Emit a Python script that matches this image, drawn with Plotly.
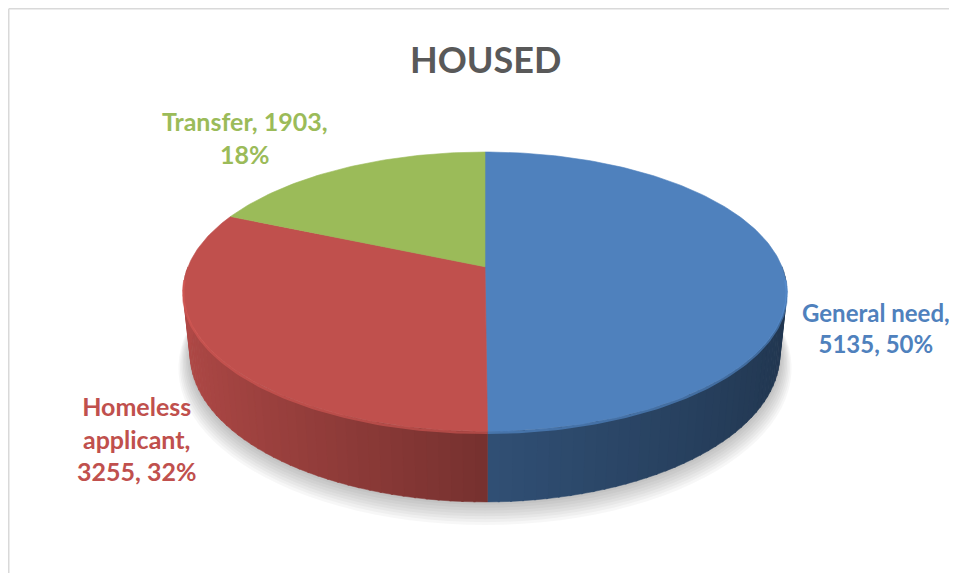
import math
import plotly.graph_objects as go

# ---- data ----
categories = ["General need", "Homeless applicant", "Transfer"]
values = [5135, 3255, 1903]
label_lines = [["General need,", "{v}, {p}%"], ["Homeless", "applicant,", "{v}, {p}%"], ["Transfer, {v},", "{p}%"]]
colors = ["#4F81BD", "#C0504D", "#9BBB59"]
title_text = "HOUSED"

W, H = 957, 581
OFF = 8  # page body margin
FW, FH = W - OFF, H - 2 * OFF

# ---- 3D projection parameters (pie geometry) ----
phi = math.radians(28.3)
D = 5.0
t = 0.12
cx = 485.0
top_y = 152.0
half_w = 297.0
F = half_w * (D - t * math.sin(phi))
base = top_y + F * (math.sin(phi) + t * math.cos(phi)) / (D + math.cos(phi) - t * math.sin(phi))


def proj(theta_deg, Y):
    th = math.radians(theta_deg)
    X = math.sin(th)
    Z = math.cos(th)
    depth = D + Z * math.cos(phi) - Y * math.sin(phi)
    sx = F * X / depth
    sy = F * (Z * math.sin(phi) + Y * math.cos(phi)) / depth
    return cx + sx, base - sy


def center(Y):
    depth = D - Y * math.sin(phi)
    return cx, base - F * (Y * math.cos(phi)) / depth


def shade(hex_color, f):
    h = hex_color.lstrip("#")
    r, g, b = int(h[0:2], 16), int(h[2:4], 16), int(h[4:6], 16)
    return "rgb({},{},{})".format(min(255, int(r * f)), min(255, int(g * f)), min(255, int(b * f)))


def arange(a0, a1, step):
    n = max(1, int(math.ceil((a1 - a0) / step)))
    return [a0 + (a1 - a0) * i / n for i in range(n + 1)]


total = sum(values)
angles = []
acc = 0.0
for v in values:
    a0 = acc / total * 360.0
    acc += v
    a1 = acc / total * 360.0
    angles.append((a0, a1))

fig = go.Figure()

# soft shadow below the pie
for k in range(1, 9):
    xs, ys = [], []
    for a in arange(0, 360, 3):
        x, y = proj(a, -t)
        bx, by = center(-t)
        xs.append(bx + (x - bx) * (1 + 0.005 * k))
        ys.append(by + (y - by) * (1 + 0.008 * k) + 1.5 * k)
    fig.add_trace(go.Scatter(x=xs, y=ys, fill="toself", mode="none",
                             fillcolor="rgba(0,0,0,0.03)", hoverinfo="skip", showlegend=False))

# side walls (front half visible)
for (a0, a1), col in zip(angles, colors):
    s0, s1 = max(a0, 90.0), min(a1, 270.0)
    if s1 <= s0:
        continue
    pts = arange(s0, s1, 2.0)
    for i in range(len(pts) - 1):
        p, q = pts[i], pts[i + 1]
        m = math.sin(math.radians((p + q) / 2))
        f = 0.62 - 0.30 * m if m < 0 else 0.62 - 0.20 * m
        q2 = q + 0.3 if q < s1 else q
        xa, ya = proj(p, t)
        xb, yb = proj(q2, t)
        xc, yc = proj(q2, -t)
        xd, yd = proj(p, -t)
        c = shade(col, f)
        fig.add_trace(go.Scatter(x=[xa, xb, xc, xd, xa], y=[ya, yb, yc, yd, ya],
                                 fill="toself", mode="lines", line=dict(width=0.5, color=c),
                                 fillcolor=c, hoverinfo="skip", showlegend=False))

# top faces
tcx, tcy = center(t)
for (a0, a1), col, name, v in zip(angles, colors, categories, values):
    xs, ys = [tcx], [tcy]
    for a in arange(a0, a1, 1.0):
        x, y = proj(a, t)
        xs.append(x)
        ys.append(y)
    xs.append(tcx)
    ys.append(tcy)
    fig.add_trace(go.Scatter(x=xs, y=ys, fill="toself", mode="lines",
                             line=dict(width=0.6, color=col), fillcolor=col,
                             name=name, text="{}: {}".format(name, v), hoverinfo="text",
                             showlegend=False))

# bevel highlight on the front rim
for (a0, a1), col in zip(angles, colors):
    s0, s1 = max(a0, 95.0), min(a1, 265.0)
    if s1 <= s0:
        continue
    xs, ys = [], []
    for a in arange(s0, s1, 1.0):
        x, y = proj(a, t)
        xs.append(x)
        ys.append(y + 1.5)
    fig.add_trace(go.Scatter(x=xs, y=ys, mode="lines", line=dict(width=2.5, color=shade(col, 1.15)),
                             opacity=0.55, hoverinfo="skip", showlegend=False))

# ---- labels ----
label_pos = [(876, 328), (136, 438), (244, 137)]
label_sizes = [24, 25, 25]
for lines, col, v, (lx, ly), fs in zip(label_lines, colors, values, label_pos, label_sizes):
    p = round(v / total * 100)
    txt = "<br>".join(s.format(v=v, p=p) for s in lines)
    fig.add_annotation(x=lx, y=ly, text="<b>" + txt + "</b>", showarrow=False,
                       xanchor="center", yanchor="middle", align="center",
                       font=dict(family="Lato, 'Open Sans', sans-serif", size=fs, color=col))

fig.add_annotation(x=485.5, y=58.5, text="<b>" + title_text + "</b>", showarrow=False,
                   xanchor="center", yanchor="middle",
                   font=dict(family="Lato, 'Open Sans', sans-serif", size=36, color="#595959"))

# chart area border (top & left edges visible)
fig.add_shape(type="line", x0=OFF + 0.75, x1=W + 5, y0=OFF + 0.75, y1=OFF + 0.75,
              line=dict(color="#D9D9D9", width=1.5))
fig.add_shape(type="line", x0=OFF + 0.75, x1=OFF + 0.75, y0=OFF + 0.75, y1=H + 5,
              line=dict(color="#D9D9D9", width=1.5))

fig.update_layout(
    width=FW, height=FH,
    margin=dict(l=0, r=0, t=0, b=0),
    paper_bgcolor="white", plot_bgcolor="white",
    xaxis=dict(range=[OFF, OFF + FW], visible=False, fixedrange=True),
    yaxis=dict(range=[OFF + FH, OFF], visible=False, fixedrange=True),
    showlegend=False,
)

fig.write_html("out.html")
